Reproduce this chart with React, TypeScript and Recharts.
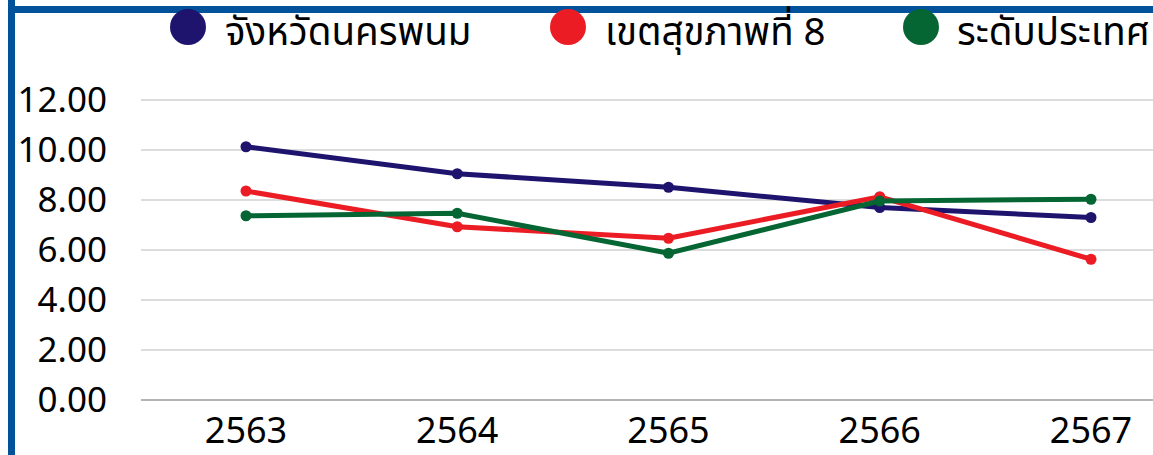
import React from "react";
import { LineChart, Line, XAxis, YAxis, CartesianGrid } from "recharts";

const years = ["2563", "2564", "2565", "2566", "2567"];
const nakhonPhanom = [10.13, 9.05, 8.51, 7.7, 7.3];
const region8 = [8.36, 6.93, 6.47, 8.13, 5.63];
const national = [7.37, 7.47, 5.87, 7.96, 8.03];
const yTicks = [0, 2, 4, 6, 8, 10, 12];

const series = [
  { key: "a", name: "จังหวัดนครพนม", color: "#1E146E", values: nakhonPhanom },
  { key: "b", name: "เขตสุขภาพที่ 8", color: "#EC1C24", values: region8 },
  { key: "c", name: "ระดับประเทศ", color: "#066633", values: national },
];

// legend layout (pixels): marker left, text left
const legendLayout = [
  { mx: 170, tx: 225 },
  { mx: 550, tx: 605 },
  { mx: 903, tx: 957 },
];

const data = years.map((y, i) => {
  const row: Record<string, string | number> = { year: y };
  series.forEach((s) => {
    row[s.key] = s.values[i];
  });
  return row;
});

const FONT = "'Noto Sans', 'Noto Sans Thai', Lato, sans-serif";

export default function App() {
  return (
    <div
      style={{
        position: "fixed",
        left: 0,
        top: 0,
        width: 1153,
        height: 455,
        overflow: "hidden",
        background: "#fff",
        fontFamily: FONT,
      }}
    >
      <div style={{ position: "absolute", left: 8, top: 0, width: 7, height: 455, background: "#02529B" }} />
      <div style={{ position: "absolute", left: 8, top: 6, width: 1145, height: 7, background: "#02529B" }} />
      <div style={{ position: "absolute", left: 0, top: 0 }}>
        <LineChart
          width={1220}
          height={455}
          data={data}
          margin={{ top: 100, right: 0, bottom: 0, left: 0 }}
        >
          <CartesianGrid vertical={false} stroke="#D0D0D0" strokeWidth={1.5} />
          <XAxis
            dataKey="year"
            height={55}
            padding={{ left: 105, right: 129 }}
            tickLine={false}
            tickSize={0}
            tickMargin={17}
            axisLine={{ stroke: "#A6A6A6", strokeWidth: 1.5 }}
            tick={{ fill: "#000", fontSize: 36, fontFamily: FONT }}
          />
          <YAxis
            width={141}
            domain={[0, 12]}
            ticks={yTicks}
            interval={0}
            axisLine={false}
            tickLine={false}
            tickSize={0}
            tickMargin={34}
            tickFormatter={(v: number) => v.toFixed(2)}
            tick={{ fill: "#000", fontSize: 35, fontFamily: FONT }}
          />
          {series.map((s) => (
            <Line
              key={s.key}
              dataKey={s.key}
              name={s.name}
              stroke={s.color}
              strokeWidth={5}
              dot={{ r: 5.5, fill: s.color, stroke: s.color, strokeWidth: 0 }}
              activeDot={false}
              isAnimationActive={false}
            />
          ))}
        </LineChart>
      </div>
      {series.map((s, i) => {
        const l = legendLayout[i];
        return (
          <React.Fragment key={s.key}>
            <div
              style={{
                position: "absolute",
                left: l.mx,
                top: 9,
                width: 36,
                height: 36,
                borderRadius: "50%",
                background: s.color,
              }}
            />
            <div
              style={{
                position: "absolute",
                left: l.tx,
                top: 8,
                height: 44,
                lineHeight: "44px",
                fontSize: 38.5,
                color: "#000",
                whiteSpace: "nowrap",
              }}
            >
              {s.name}
            </div>
          </React.Fragment>
        );
      })}
    </div>
  );
}
